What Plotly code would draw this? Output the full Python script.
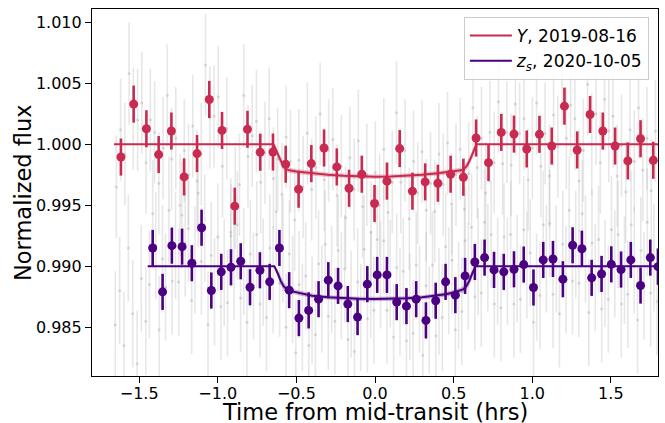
import plotly.graph_objects as go

# ---------------- data ----------------
# Binned Y-band points (2019-08-16)
Y_BIN_X = [-1.616, -1.535, -1.454, -1.376, -1.295, -1.214, -1.132, -1.054, -0.973, -0.892,
           -0.811, -0.730, -0.649, -0.568, -0.486, -0.405, -0.324, -0.243, -0.165, -0.084,
           -0.003, 0.076, 0.157, 0.238, 0.319, 0.400, 0.481, 0.562, 0.643, 0.722,
           0.803, 0.884, 0.965, 1.046, 1.124, 1.205, 1.286, 1.368, 1.449, 1.527,
           1.608, 1.689, 1.770]
Y_BIN_FLUX = [0.99896, 1.00330, 1.00128, 0.99916, 1.00109, 0.99733, 0.99924, 1.00368, 1.00114, 0.99493,
              1.00123, 0.99935, 0.99937, 0.99837, 0.99632, 0.99842, 0.99970, 0.99815, 0.99640, 0.99755,
              0.99515, 0.99698, 0.99965, 0.99616, 0.99692, 0.99681, 0.99755, 0.99730, 1.00052, 0.99850,
              1.00098, 1.00084, 0.99962, 1.00082, 0.99986, 1.00313, 0.99954, 1.00245, 1.00109, 0.99986,
              0.99864, 1.00046, 0.99869]
Y_BIN_ERR = 0.00152

# Binned z_s-band points (2020-10-05)
ZS_BIN_X = [-1.414, -1.351, -1.292, -1.227, -1.165, -1.103, -1.041, -0.978, -0.916, -0.854,
            -0.795, -0.732, -0.670, -0.608, -0.546, -0.484, -0.422, -0.359, -0.297, -0.235,
            -0.173, -0.111, -0.049, 0.014, 0.076, 0.138, 0.200, 0.262, 0.324, 0.386,
            0.449, 0.511, 0.573, 0.635, 0.697, 0.757, 0.819, 0.884, 0.946, 1.008,
            1.070, 1.132, 1.195, 1.257, 1.316, 1.378, 1.441, 1.503, 1.565, 1.627,
            1.689, 1.751, 1.800]
ZS_BIN_FLUX = [0.99150, 0.98790, 0.99169, 0.99161, 0.99025, 0.99316, 0.98801, 0.98954, 0.98992, 0.99041,
               0.98828, 0.98967, 0.98872, 0.99150, 0.98804, 0.98575, 0.98638, 0.98730, 0.98886, 0.98839,
               0.98690, 0.98583, 0.98853, 0.98929, 0.98929, 0.98706, 0.98673, 0.98730, 0.98556, 0.98717,
               0.98872, 0.98763, 0.98921, 0.99035, 0.99071, 0.98970, 0.98954, 0.98975, 0.99014, 0.98826,
               0.99052, 0.99060, 0.98894, 0.99172, 0.99144, 0.98905, 0.98937, 0.99016, 0.98973, 0.99052,
               0.98842, 0.99071, 0.98997]
ZS_BIN_ERR = 0.00148

# Unbinned (grey) points, flux given in ppt relative to each light curve's baseline
Y_BASE = 1.000
ZS_BASE = 0.990
Y_RAW_X = [-1.645, -1.618, -1.591, -1.564, -1.537, -1.510, -1.483, -1.456, -1.429, -1.402,
           -1.375, -1.348, -1.321, -1.294, -1.267, -1.240, -1.213, -1.186, -1.159, -1.132,
           -1.105, -1.078, -1.051, -1.024, -0.997, -0.970, -0.943, -0.916, -0.889, -0.862,
           -0.835, -0.808, -0.781, -0.754, -0.727, -0.700, -0.673, -0.646, -0.619, -0.592,
           -0.565, -0.538, -0.511, -0.484, -0.457, -0.430, -0.403, -0.376, -0.349, -0.322,
           -0.295, -0.268, -0.241, -0.214, -0.187, -0.160, -0.133, -0.106, -0.079, -0.052,
           -0.025, 0.002, 0.029, 0.056, 0.083, 0.110, 0.137, 0.164, 0.191, 0.218,
           0.245, 0.272, 0.299, 0.326, 0.353, 0.380, 0.407, 0.434, 0.461, 0.488,
           0.515, 0.542, 0.569, 0.596, 0.623, 0.650, 0.677, 0.704, 0.731, 0.758,
           0.785, 0.812, 0.839, 0.866, 0.893, 0.920, 0.947, 0.974, 1.001, 1.028,
           1.055, 1.082, 1.109, 1.136, 1.163, 1.190, 1.217, 1.244, 1.271, 1.298,
           1.325, 1.352, 1.379, 1.406, 1.433, 1.460, 1.487, 1.514, 1.541, 1.568,
           1.595, 1.622, 1.649, 1.676, 1.703, 1.730, 1.757, 1.784, 1.811, 1.838]
Y_RAW_PPT = [-3.5, 1.2, -0.8, 5.8, 2.1, 2.0, 3.4, -1.5, 2.0, 1.0,
             -3.2, -0.3, 4.0, -1.2, 0.5, -5.0, -0.5, -2.5, 1.5, -3.0,
             -0.8, 6.5, 2.2, 2.3, 3.9, -1.8, 1.3, -7.5, -4.4, -3.3,
             4.0, -1.0, 0.7, 1.9, -3.1, -0.7, 2.1, -2.8, -1.2, -4.1,
             0.6, -1.4, -6.2, -1.3, -3.5, 0.9, -3.7, -1.9, 2.5, -2.9,
             -0.5, 0.4, -4.2, -1.8, -6.0, -1.1, -3.7, 0.3, -5.1, -2.5,
             -7.2, -2.3, -5.0, -0.4, -5.6, -3.1, 2.6, -3.1, -0.5, -6.1,
             -1.4, -4.0, -0.6, -5.4, -3.2, -5.5, -0.8, -3.3, 0.1, -4.9,
             -2.5, -0.4, -5.3, -2.4, 3.0, -1.9, 0.5, -4.0, 1.0, -1.5,
             3.5, -1.6, 1.0, -1.7, 3.3, 0.9, 2.1, -2.9, -0.3, 3.4,
             -1.8, 0.9, -2.6, 2.4, -0.2, 5.7, 0.5, 3.2, 2.1, -3.0,
             -0.5, 4.9, 0.0, 2.5, -1.5, 3.7, 1.1, 2.3, -2.6, -0.1,
             -3.9, 1.2, -1.4, 3.0, -2.1, 0.5, -3.8, 1.1, -1.2, 0.8]
Y_RAW_ERR = 0.0042

ZS_RAW_X = [-1.652, -1.624, -1.597, -1.569, -1.541, -1.513, -1.486, -1.458,
            -1.435, -1.414, -1.394, -1.373, -1.352, -1.332, -1.311, -1.290, -1.269, -1.249,
            -1.228, -1.207, -1.187, -1.166, -1.145, -1.125, -1.104, -1.083, -1.062, -1.042,
            -1.021, -1.000, -0.980, -0.959, -0.938, -0.918, -0.897, -0.876, -0.855, -0.835,
            -0.814, -0.793, -0.773, -0.752, -0.731, -0.711, -0.690, -0.669, -0.648, -0.628,
            -0.607, -0.586, -0.566, -0.545, -0.524, -0.504, -0.483, -0.462, -0.441, -0.421,
            -0.400, -0.379, -0.359, -0.338, -0.317, -0.297, -0.276, -0.255, -0.234, -0.214,
            -0.193, -0.172, -0.152, -0.131, -0.110, -0.090, -0.069, -0.048, -0.027, -0.007,
            0.014, 0.035, 0.055, 0.076, 0.097, 0.118, 0.138, 0.159, 0.180, 0.200,
            0.221, 0.242, 0.262, 0.283, 0.304, 0.325, 0.345, 0.366, 0.387, 0.407,
            0.428, 0.449, 0.469, 0.490, 0.511, 0.532, 0.552, 0.573, 0.594, 0.614,
            0.635, 0.656, 0.676, 0.697, 0.718, 0.739, 0.759, 0.780, 0.801, 0.821,
            0.842, 0.863, 0.883, 0.904, 0.925, 0.946, 0.966, 0.987, 1.008, 1.028,
            1.049, 1.070, 1.090, 1.111, 1.132, 1.153, 1.173, 1.194, 1.215, 1.235,
            1.256, 1.277, 1.297, 1.318, 1.339, 1.360, 1.380, 1.401, 1.422, 1.442,
            1.463, 1.484, 1.504, 1.525, 1.546, 1.567, 1.587, 1.608, 1.629, 1.649,
            1.670, 1.691, 1.711, 1.732, 1.753, 1.774, 1.794, 1.815, 1.836, 1.856]
ZS_RAW_PPT = [-4.8, -2.0, -6.5, 1.5, -3.9, -8.0, -1.0, -4.5,
              -1.5, 4.3, 1.7, -5.2, 0.6, -1.7, 4.6, -1.2, 1.7, -1.3,
              4.2, 1.9, 3.1, -2.8, 0.5, 6.0, 0.4, 3.1, -4.8, 0.9,
              -2.1, 2.4, -3.3, -0.5, -3.0, 2.8, 0.0, 3.4, -2.6, 0.4,
              -4.6, 1.0, -1.6, 2.6, -3.1, -0.5, -4.2, 1.5, -1.1, 4.5,
              -1.4, 1.4, -5.0, 1.0, -1.9, -7.1, -1.5, -4.2, -0.8, -6.5,
              -3.6, -5.6, 0.2, -2.7, 1.8, -4.1, -1.1, -4.5, 1.3, -1.6,
              -0.2, -6.0, -3.1, -7.0, -1.3, -4.2, 1.4, -4.3, -1.5, -3.6,
              2.2, -0.7, 2.1, -3.6, -0.6, -5.8, -0.1, -2.9, -0.4, -6.1,
              -3.3, -5.5, 0.1, -2.7, -7.3, -1.6, -4.4, 0.1, -5.7, -2.9,
              -4.2, 1.6, -1.2, 0.5, -5.2, -2.4, -3.7, 2.1, -0.8, 3.2,
              -2.5, 0.4, -2.2, 3.6, 0.7, 2.6, -3.1, -0.4, -3.4, 2.4,
              -0.4, 2.6, -3.1, -0.2, -2.7, 3.0, 0.1, 1.1, -4.6, -1.7,
              -2.4, 3.4, 0.6, 3.5, -2.3, 0.6, -3.9, 1.8, -1.1, 4.6,
              -1.2, 1.8, -1.4, 4.3, 1.4, -3.8, 1.9, -0.9, 2.2, -3.5,
              -0.6, -2.7, 3.0, 0.2, 2.6, -3.1, -0.3, -2.3, 3.4, 0.5,
              -4.4, 1.3, -1.6, 3.6, -2.2, 0.7, -2.9, 2.8, 0.0, 1.2]
ZS_RAW_ERR = 0.0044

# Transit model curves and their uncertainty half-widths
Y_MODEL_X = [-1.66, -0.645, -0.625, -0.605, -0.585, -0.565, -0.545, -0.50, -0.40, -0.30,
             -0.20, -0.10, 0.00, 0.10, 0.20, 0.30, 0.40, 0.50, 0.545, 0.565,
             0.585, 0.605, 0.625, 0.645, 1.80]
Y_MODEL_FLUX = [1.00000, 1.00000, 0.99940, 0.99875, 0.99825, 0.99797, 0.99787, 0.99777, 0.99762, 0.99751,
                0.99742, 0.99736, 0.99734, 0.99736, 0.99742, 0.99751, 0.99762, 0.99777, 0.99787, 0.99797,
                0.99825, 0.99875, 0.99940, 1.00000, 1.00000]
Y_MODEL_SIG = [0.00000, 0.00002, 0.00030, 0.00036, 0.00032, 0.00026, 0.00022, 0.00020, 0.00019, 0.00018,
               0.00018, 0.00018, 0.00018, 0.00018, 0.00018, 0.00018, 0.00019, 0.00020, 0.00022, 0.00026,
               0.00032, 0.00036, 0.00030, 0.00002, 0.00000]

ZS_MODEL_X = [-1.446, -0.640, -0.620, -0.600, -0.580, -0.560, -0.540, -0.50, -0.45, -0.40,
              -0.30, -0.20, -0.10, 0.00, 0.10, 0.20, 0.30, 0.40, 0.45, 0.50,
              0.540, 0.560, 0.580, 0.600, 0.620, 0.640, 1.80]
ZS_MODEL_FLUX = [0.99000, 0.99000, 0.98945, 0.98880, 0.98835, 0.98810, 0.98798, 0.98785, 0.98770, 0.98758,
                 0.98745, 0.98737, 0.98733, 0.98732, 0.98733, 0.98737, 0.98745, 0.98758, 0.98770, 0.98785,
                 0.98798, 0.98810, 0.98835, 0.98880, 0.98945, 0.99000, 0.99000]
ZS_MODEL_SIG = [0.00000, 0.00002, 0.00030, 0.00036, 0.00032, 0.00026, 0.00022, 0.00020, 0.00019, 0.00019,
                0.00018, 0.00018, 0.00018, 0.00018, 0.00018, 0.00018, 0.00018, 0.00019, 0.00019, 0.00020,
                0.00022, 0.00026, 0.00032, 0.00036, 0.00030, 0.00002, 0.00000]

LEGEND_LABELS = ["<i>Y</i>, 2019-08-16", "<i>z</i><sub><i>s</i></sub>, 2020-10-05"]
X_TICKS = [-1.5, -1.0, -0.5, 0.0, 0.5, 1.0, 1.5]
X_TICK_TEXT = ["\u22121.5", "\u22121.0", "\u22120.5", "0.0", "0.5", "1.0", "1.5"]
Y_TICKS = [0.985, 0.990, 0.995, 1.000, 1.005, 1.010]
Y_TICK_TEXT = ["0.985", "0.990", "0.995", "1.000", "1.005", "1.010"]

# ---------------- styling ----------------
RED = "#c92a50"
PURPLE = "#4b0082"
FONT = "DejaVu Sans"

fig = go.Figure()

# grey unbinned points
for xs, ppt, base, err in [(Y_RAW_X, Y_RAW_PPT, Y_BASE, Y_RAW_ERR),
                           (ZS_RAW_X, ZS_RAW_PPT, ZS_BASE, ZS_RAW_ERR)]:
    n = min(len(xs), len(ppt))
    fig.add_trace(go.Scatter(
        x=xs[:n], y=[base + v / 1000.0 for v in ppt[:n]],
        mode="markers",
        marker=dict(size=3, color="rgba(170,170,170,0.4)"),
        error_y=dict(type="constant", value=err, width=0, thickness=1.6,
                     color="rgba(175,175,175,0.3)"),
        showlegend=False, hoverinfo="skip"))

# model bands + lines
for mx, my, ms, col, rgba, name in [
        (Y_MODEL_X, Y_MODEL_FLUX, Y_MODEL_SIG, RED, "rgba(201,42,80,0.28)", LEGEND_LABELS[0]),
        (ZS_MODEL_X, ZS_MODEL_FLUX, ZS_MODEL_SIG, PURPLE, "rgba(75,0,130,0.28)", LEGEND_LABELS[1])]:
    fig.add_trace(go.Scatter(x=mx, y=[a + b for a, b in zip(my, ms)], mode="lines",
                             line=dict(width=0), showlegend=False, hoverinfo="skip"))
    fig.add_trace(go.Scatter(x=mx, y=[a - b for a, b in zip(my, ms)], mode="lines",
                             line=dict(width=0), fill="tonexty", fillcolor=rgba,
                             showlegend=False, hoverinfo="skip"))
    fig.add_trace(go.Scatter(x=mx, y=my, mode="lines", line=dict(color=col, width=2),
                             name=name, showlegend=True))

# binned points
fig.add_trace(go.Scatter(
    x=ZS_BIN_X, y=ZS_BIN_FLUX, mode="markers",
    marker=dict(size=9, color=PURPLE),
    error_y=dict(type="constant", value=ZS_BIN_ERR, width=0, thickness=2.6, color=PURPLE),
    showlegend=False))
fig.add_trace(go.Scatter(
    x=Y_BIN_X, y=Y_BIN_FLUX, mode="markers",
    marker=dict(size=9, color=RED),
    error_y=dict(type="constant", value=Y_BIN_ERR, width=0, thickness=2.6, color=RED),
    showlegend=False))

axis_common = dict(showgrid=False, zeroline=False, showline=True, mirror=True,
                   linecolor="black", linewidth=1.2, ticks="outside", ticklen=6,
                   tickwidth=1.2, tickcolor="black",
                   tickfont=dict(family=FONT, size=16, color="black"))

fig.update_layout(
    width=665, height=423,
    margin=dict(l=92, r=7, t=9, b=47, pad=0),
    paper_bgcolor="white", plot_bgcolor="white",
    xaxis=dict(range=[-1.8, 1.8], tickvals=X_TICKS, ticktext=X_TICK_TEXT,
               ticklabelstandoff=-3, **axis_common),
    yaxis=dict(range=[0.9810, 1.0111], tickvals=Y_TICKS, ticktext=Y_TICK_TEXT, **axis_common),
    legend=dict(x=0.657, y=0.978, xanchor="left", yanchor="top",
                bgcolor="rgba(255,255,255,0.85)", bordercolor="#cccccc", borderwidth=1,
                itemwidth=42,
                font=dict(family=FONT, size=17, color="black"), traceorder="normal"),
    annotations=[
        dict(text="Time from mid-transit (hrs)", xref="paper", yref="paper", x=0.5, y=0,
             xanchor="center", yanchor="middle", yshift=-35.5, showarrow=False,
             font=dict(family=FONT, size=22.5, color="black")),
        dict(text="Normalized flux", xref="paper", yref="paper", x=0, y=0.5,
             xanchor="center", yanchor="middle", xshift=-69.5, textangle=-90, showarrow=False,
             font=dict(family=FONT, size=22.5, color="black")),
    ],
)

fig.write_html("out.html")
